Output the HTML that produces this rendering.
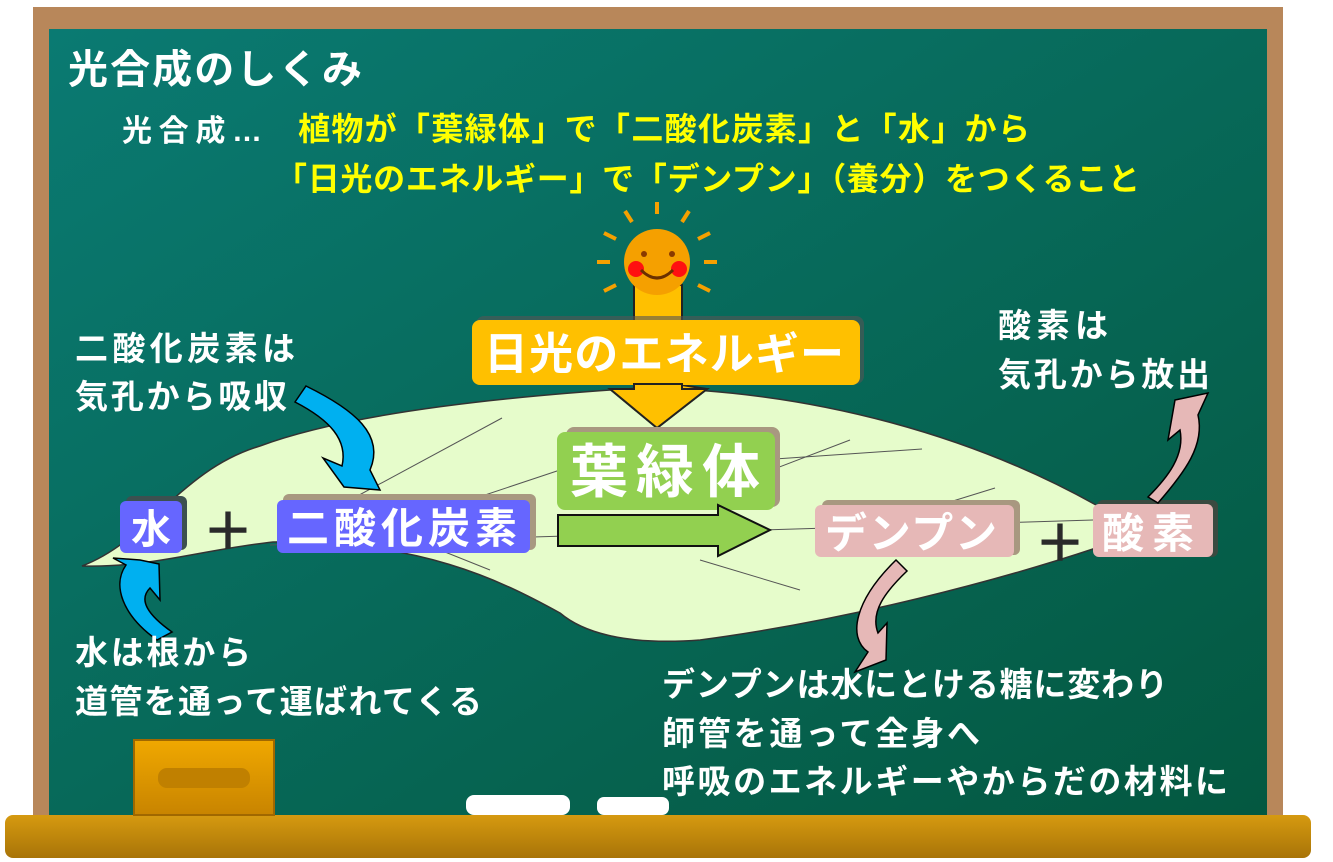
<!DOCTYPE html>
<html><head><meta charset="utf-8"><style>
html,body{margin:0;padding:0;background:#fff;}
svg{display:block;}
text{font-family:"Liberation Sans","Noto Sans CJK JP",sans-serif;font-weight:bold;}
</style></head><body>
<svg width="1333" height="862" viewBox="0 0 1333 862" xmlns="http://www.w3.org/2000/svg">
<defs>
<linearGradient id="bd" x1="0" y1="0" x2="1" y2="1">
<stop offset="0" stop-color="#0a7a72"/><stop offset="1" stop-color="#045840"/>
</linearGradient>
<linearGradient id="tray" x1="0" y1="0" x2="0" y2="1">
<stop offset="0" stop-color="#d69a10"/><stop offset="1" stop-color="#a87408"/>
</linearGradient>
<linearGradient id="eraser" x1="0" y1="0" x2="0" y2="1">
<stop offset="0" stop-color="#f0a800"/><stop offset="1" stop-color="#c88400"/>
</linearGradient>
</defs>
<rect x="33" y="7" width="1250" height="815" fill="#b8875a"/>
<rect x="49" y="29" width="1218" height="790" fill="url(#bd)"/>
<rect x="5" y="815" width="1306" height="43" rx="8" fill="url(#tray)"/>
<rect x="134" y="740" width="140" height="75" fill="url(#eraser)" stroke="#a06800" stroke-width="2"/>
<rect x="158" y="768" width="92" height="20" rx="9" fill="#c08000"/>
<rect x="466" y="795" width="104" height="20" rx="8" fill="#fff"/>
<rect x="597" y="797" width="72" height="18" rx="7" fill="#fff"/>

<text x="68" y="83" font-size="40" fill="#fff" textLength="294">光合成のしくみ</text>
<text x="122" y="141" font-size="30" fill="#fff" textLength="140">光合成…</text>
<text x="298" y="140" font-size="32" fill="#ffff00" textLength="732">植物が「葉緑体」で「二酸化炭素」と「水」から</text>
<text x="275" y="190" font-size="32" fill="#ffff00" textLength="865">「日光のエネルギー」で「デンプン」（養分）をつくること</text>

<path d="M82 566 C150 540 180 470 260 446 C330 420 450 400 640 388 C820 390 980 440 1096 505 L1096 548 C1000 580 850 620 700 640 C620 646 580 630 560 613 C500 580 420 540 273 542 C200 550 150 568 82 566 Z" fill="#e6fccb" stroke="#333" stroke-width="1.5"/>
<g stroke="#555" stroke-width="1" fill="none">
<line x1="270" y1="545" x2="1093" y2="520"/>
<line x1="350" y1="500" x2="502" y2="418"/>
<line x1="470" y1="500" x2="620" y2="450"/>
<line x1="680" y1="505" x2="850" y2="440"/>
<line x1="760" y1="460" x2="922" y2="449"/>
<line x1="940" y1="505" x2="995" y2="488"/>
<line x1="440" y1="550" x2="490" y2="570"/>
<line x1="700" y1="560" x2="800" y2="590"/>
</g>

<g stroke="#f5a000" stroke-width="4">
<line x1="657" y1="202" x2="657" y2="214"/>
<line x1="625" y1="211" x2="632" y2="222"/>
<line x1="689" y1="211" x2="682" y2="222"/>
<line x1="604" y1="233" x2="616" y2="239"/>
<line x1="710" y1="233" x2="698" y2="239"/>
<line x1="597" y1="262" x2="610" y2="262"/>
<line x1="717" y1="262" x2="704" y2="262"/>
<line x1="604" y1="291" x2="616" y2="285"/>
<line x1="710" y1="291" x2="698" y2="285"/>
</g>
<path d="M634 285 L682 285 L682 385 L707 389 L657 428 L610 389 L634 389 Z" fill="#ffc000" stroke="#222" stroke-width="2"/>
<circle cx="657" cy="262" r="33" fill="#f5a000"/>
<circle cx="636" cy="269" r="8" fill="#ff1010"/>
<circle cx="679" cy="269" r="8" fill="#ff1010"/>
<circle cx="644" cy="254" r="3" fill="#8a3a00"/>
<circle cx="672" cy="254" r="3" fill="#8a3a00"/>
<path d="M641 270 Q657 286 673 270" stroke="#6a3000" stroke-width="3" fill="none"/>

<rect x="476" y="316" width="388" height="68" rx="8" fill="#555" opacity="0.6"/>
<rect x="472" y="320" width="388" height="65" rx="8" fill="#ffc000"/>
<path d="M610 389 L634 389 L634 384 L682 384 L682 389 L707 389 L657 428 Z" fill="#ffc000" stroke="#222" stroke-width="2"/>
<text x="484" y="369" font-size="44" fill="#fff" textLength="360">日光のエネルギー</text>

<rect x="566" y="427" width="214" height="80" rx="8" fill="#a89880"/>
<rect x="557" y="432" width="218" height="78" rx="8" fill="#92d050"/>
<text x="570" y="492" font-size="58" fill="#fff" textLength="190">葉緑体</text>

<path d="M558 515 L718 515 L718 505 L770 530 L718 556 L718 546 L558 546 Z" fill="#92d050" stroke="#111" stroke-width="2"/>

<rect x="126" y="496" width="61" height="54" rx="6" fill="#3c5050"/>
<rect x="120" y="501" width="62" height="52" rx="6" fill="#6666ff"/>
<text x="131" y="543" font-size="40" fill="#fff">水</text>
<text x="202" y="550" font-size="52" fill="#2a2a2a">＋</text>

<rect x="283" y="494" width="253" height="56" rx="6" fill="#a89880"/>
<rect x="277" y="500" width="253" height="53" rx="6" fill="#6666ff"/>
<text x="287" y="543" font-size="42" fill="#fff" textLength="230">二酸化炭素</text>

<rect x="822" y="500" width="198" height="55" rx="6" fill="#a89880"/>
<rect x="815" y="505" width="199" height="52" rx="6" fill="#e6b8b7"/>
<text x="825" y="548" font-size="42" fill="#fff" textLength="172">デンプン</text>
<text x="1034" y="562" font-size="52" fill="#2a2a2a">＋</text>

<rect x="1097" y="500" width="121" height="57" rx="6" fill="#3a4a40"/>
<rect x="1093" y="504" width="120" height="53" rx="6" fill="#e6b8b7"/>
<text x="1102" y="548" font-size="42" fill="#fff" textLength="92">酸素</text>

<!-- blue arrows -->
<path d="M295 402 L306 386 C355 410 385 435 370 470 L380 490 L344 487 L323 458 L342 466 C348 440 330 420 295 402 Z" fill="#00b0f0" stroke="#000" stroke-width="1.5"/>
<path d="M157 640 C122 615 112 585 126 565 L113 558 L140 560 L159 564 L160 600 L150 588 C138 600 148 615 172 632 Z" fill="#00b0f0" stroke="#000" stroke-width="1.5"/>
<!-- pink arrows -->
<path d="M1158 503 C1185 472 1205 445 1198 415 L1208 393 L1175 400 L1168 440 L1180 430 C1185 455 1168 477 1148 497 Z" fill="#e6b8b7" stroke="#000" stroke-width="1.5"/>
<path d="M896 560 L907 571 C885 592 870 612 878 633 L887 623 L886 660 L855 672 L868 652 C847 637 855 600 896 560 Z" fill="#e6b8b7" stroke="#000" stroke-width="1.5"/>

<g fill="#fff" font-size="33">
<text x="75" y="360" textLength="220">二酸化炭素は</text>
<text x="75" y="408" textLength="212">気孔から吸収</text>
<text x="998" y="337" textLength="110">酸素は</text>
<text x="998" y="386" textLength="212">気孔から放出</text>
<text x="75" y="664" textLength="176">水は根から</text>
<text x="75" y="713" textLength="407">道管を通って運ばれてくる</text>
<text x="662" y="696" textLength="506">デンプンは水にとける糖に変わり</text>
<text x="662" y="745" textLength="318">師管を通って全身へ</text>
<text x="662" y="793" textLength="566">呼吸のエネルギーやからだの材料に</text>
</g>
</svg>
</body></html>
